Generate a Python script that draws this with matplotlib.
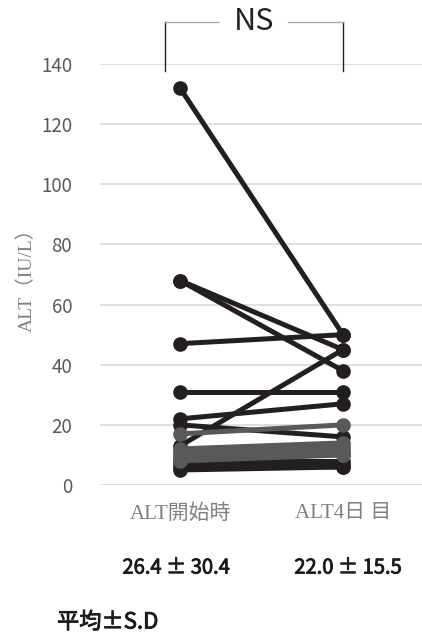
import matplotlib.pyplot as plt
import matplotlib.patheffects as pe

plt.rcParams['font.family'] = ['Noto Sans CJK JP', 'DejaVu Sans']

# ALT values (IU/L) per patient: at start and on day 4
categories = ['ALT開始時', 'ALT4日 目']
alt_start_dark = [132, 68, 68, 47, 31, 22, 20, 13, 8, 7, 6, 5]
alt_day4_dark = [50, 45, 38, 50, 31, 27, 16, 45, 8, 6, 7, 6]
alt_start_gray = [17, 12, 11, 10, 10, 9, 8]
alt_day4_gray = [20, 14, 13, 12, 11, 10, 10]
mean_sd = ['26.4 ± 30.4', '22.0 ± 15.5']
yticks = [0, 20, 40, 60, 80, 100, 120, 140]

W, H = 422, 639
fig = plt.figure(figsize=(W / 100, H / 100), dpi=100)
ax = fig.add_axes([100 / W, 154 / H, 322 / W, 421 / H])

dark = '#231f20'
gray = '#58595b'
for a, b in zip(alt_start_dark, alt_day4_dark):
    ax.plot([0, 1], [a, b], color=dark, lw=3.6, marker='o', ms=9.5,
            solid_capstyle='round', clip_on=False, zorder=3)
for a, b in zip(alt_start_gray, alt_day4_gray):
    ax.plot([0, 1], [a, b], color=gray, lw=3.6, marker='o', ms=9.5,
            solid_capstyle='round', clip_on=False, zorder=3.5)

ax.set_xlim(-0.491, 1.4847)
ax.set_ylim(0, 140)
ax.set_yticks(yticks)
ax.set_xticks([0, 1])
ax.set_xticklabels(categories, family=['Liberation Serif', 'Noto Sans CJK JP'],
                   fontsize=15, color='#808080')
ax.tick_params(axis='x', length=0, pad=14)
ax.tick_params(axis='y', length=0, pad=20, labelsize=13.5, labelcolor='#595959')
ax.grid(axis='y', color='#d9d9d9', lw=1.2)
ax.set_axisbelow(True)
for s in ax.spines.values():
    s.set_visible(False)

fig.text(27 / W, 1 - 275 / H, 'ALT（IU/L）', rotation=90, ha='center', va='center',
         fontsize=14, color='#808080', family=['Liberation Serif', 'Noto Sans CJK JP'])

# NS bracket above the plot
trans = fig.transFigure
xl, xr, yt, yb = 165 / W, 343 / W, 1 - 22 / H, 1 - 71 / H
fig.add_artist(plt.Line2D([xl, xl], [yt, yb], color='#222222', lw=1.0, transform=trans))
fig.add_artist(plt.Line2D([xr, xr], [yt, yb], color='#222222', lw=1.0, transform=trans))
fig.add_artist(plt.Line2D([xl, 218 / W], [yt, yt], color='#a6a6a6', lw=1.0, transform=trans))
fig.add_artist(plt.Line2D([288 / W, xr], [yt, yt], color='#a6a6a6', lw=1.0, transform=trans))
fig.text(254 / W, yt, 'NS', ha='center', va='center', fontsize=22, color='#222222')

# semi-bold look for the summary text
thick = [pe.withStroke(linewidth=0.6, foreground='#1a1a1a')]
for x, t in zip([176, 348], mean_sd):
    fig.text(x / W, 1 - 568 / H, t, ha='center', va='center', fontsize=14.5,
             color='#1a1a1a', path_effects=thick)
fig.text(57 / W, 1 - 622 / H, '平均±S.D', ha='left', va='center', fontsize=16,
         color='#1a1a1a', path_effects=thick)

fig.savefig('out.png', dpi=100)
